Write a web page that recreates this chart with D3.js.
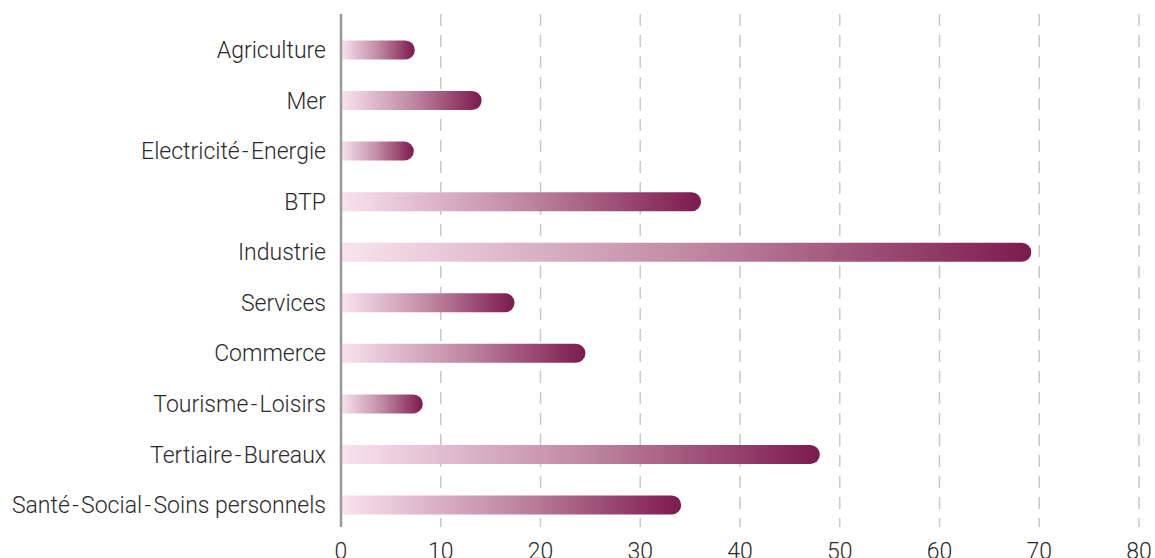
<!DOCTYPE html>
<html>
  <head>
    <meta charset="utf-8">
    <script src="https://d3js.org/d3.v7.min.js"></script>
    <style>
      body { margin: 0; background: #fff; }
      text { font-family: Roboto, "Noto Sans", sans-serif; font-weight: 300; fill: #2a2a2a; }
    </style>
  </head>
  <body>
    <div id="chart">
      <svg width="1155" height="558"></svg>
    </div>
    <script>

      const categories = ['Agriculture', 'Mer', 'Electricité\u200A-\u200AEnergie', 'BTP', 'Industrie', 'Services',
        'Commerce', 'Tourisme\u200A-\u200ALoisirs', 'Tertiaire\u200A-\u200ABureaux',
        'Santé\u200A-\u200ASocial\u200A-\u200ASoins personnels'];
      const values = [7.4, 14.1, 7.3, 36.1, 69.2, 17.4, 24.5, 8.2, 48.0, 34.1];
      const ticks = [0, 10, 20, 30, 40, 50, 60, 70, 80];

      const svg = d3.select('#chart').select('svg');

      const x = d3.scaleLinear().domain([0, 80]).range([341, 1139]);
      const y = d3.scaleBand().domain(categories).range([24.7, 530.3]);
      const barH = 19;

      const grad = svg.append('defs').append('linearGradient')
        .attr('id', 'barGrad');
      grad.append('stop').attr('offset', '0%').attr('stop-color', '#f9e3ef');
      grad.append('stop').attr('offset', '50%').attr('stop-color', '#c18aa3');
      grad.append('stop').attr('offset', '100%').attr('stop-color', '#7c1a4e');

      // dashed grid
      svg.append('g')
        .selectAll('line')
        .data(ticks.slice(1))
        .join('line')
        .attr('x1', d => x(d))
        .attr('x2', d => x(d))
        .attr('y1', 14)
        .attr('y2', 527)
        .attr('stroke', '#c8c8c8')
        .attr('stroke-width', 1.5)
        .attr('stroke-dasharray', '12,9');

      // bars with rounded right end
      svg.append('g')
        .selectAll('path')
        .data(categories)
        .join('path')
        .attr('d', (d, i) => {
          const x0 = x(0);
          const x1 = x(values[i]);
          const r = barH / 2;
          const cy = y(d) + y.bandwidth() / 2;
          return `M${x0},${cy - r} L${x1 - r},${cy - r} A${r},${r} 0 0 1 ${x1 - r},${cy + r} L${x0},${cy + r} Z`;
        })
        .attr('fill', 'url(#barGrad)');

      // vertical axis line
      svg.append('line')
        .attr('x1', x(0))
        .attr('x2', x(0))
        .attr('y1', 14)
        .attr('y2', 527)
        .attr('stroke', '#999')
        .attr('stroke-width', 2.5);

      // category labels
      svg.append('g')
        .selectAll('text')
        .data(categories)
        .join('text')
        .attr('x', x(0) - 15)
        .attr('y', d => y(d) + y.bandwidth() / 2)
        .attr('dy', '0.35em')
        .attr('text-anchor', 'end')
        .style('font-size', '23px')
        .text(d => d);

      // tick labels
      svg.append('g')
        .selectAll('text')
        .data(ticks)
        .join('text')
        .attr('x', d => x(d))
        .attr('y', 559)
        .attr('text-anchor', 'middle')
        .style('font-size', '23px')
        .text(d => d);

    </script>
  </body>
</html>
